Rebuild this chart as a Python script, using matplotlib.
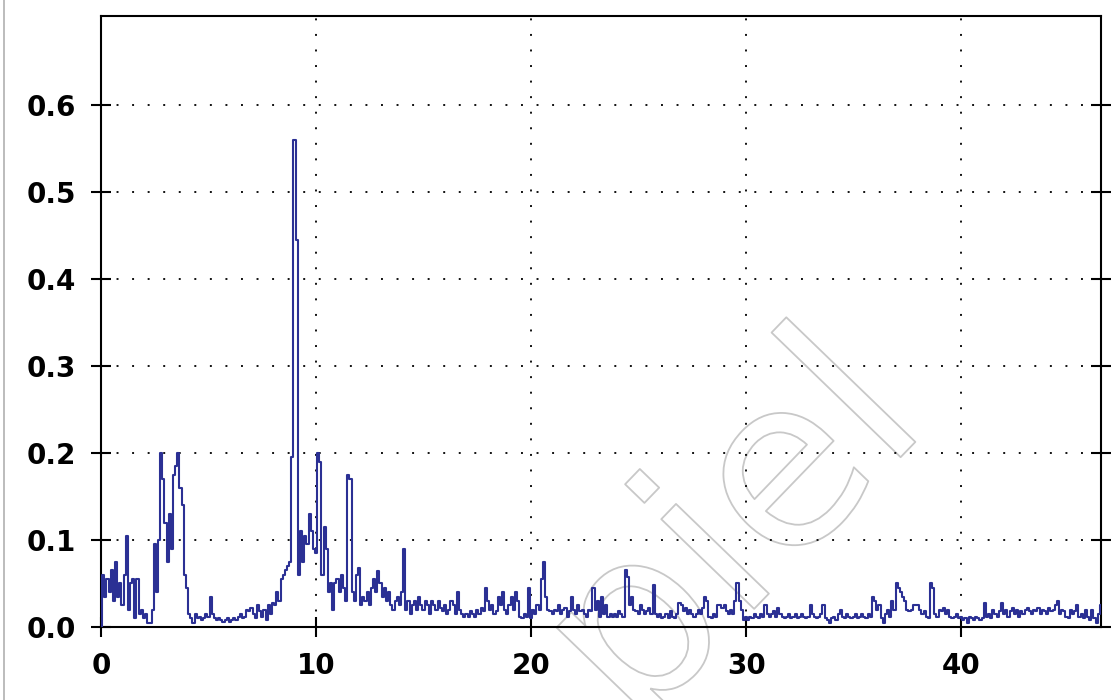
import matplotlib
matplotlib.use("Agg")
import matplotlib.pyplot as plt
import matplotlib.patheffects as pe
from matplotlib.lines import Line2D
import numpy as np

# spectrum values, one row per unit of x, bin width 0.1
amplitude = [
    0.000, 0.060, 0.035, 0.055, 0.040, 0.065, 0.030, 0.075, 0.035, 0.050,
    0.025, 0.060, 0.105, 0.020, 0.050, 0.055, 0.010, 0.055, 0.015, 0.020,
    0.010, 0.015, 0.005, 0.005, 0.020, 0.095, 0.040, 0.100, 0.200, 0.170,
    0.120, 0.075, 0.130, 0.090, 0.175, 0.185, 0.200, 0.160, 0.140, 0.060,
    0.045, 0.015, 0.010, 0.005, 0.015, 0.010, 0.012, 0.008, 0.010, 0.015,
    0.012, 0.035, 0.015, 0.010, 0.008, 0.010, 0.008, 0.006, 0.008, 0.010,
    0.006, 0.008, 0.010, 0.008, 0.012, 0.015, 0.010, 0.012, 0.020, 0.018,
    0.022, 0.015, 0.010, 0.025, 0.018, 0.012, 0.020, 0.008, 0.025, 0.015,
    0.028, 0.025, 0.040, 0.030, 0.055, 0.060, 0.065, 0.070, 0.075, 0.195,
    0.560, 0.445, 0.060, 0.110, 0.075, 0.105, 0.095, 0.130, 0.110, 0.090,
    0.085, 0.200, 0.190, 0.060, 0.115, 0.090, 0.040, 0.050, 0.020, 0.050,
    0.055, 0.040, 0.060, 0.045, 0.030, 0.175, 0.170, 0.040, 0.030, 0.060,
    0.068, 0.025, 0.035, 0.030, 0.040, 0.025, 0.045, 0.055, 0.040, 0.064,
    0.050, 0.035, 0.045, 0.030, 0.040, 0.025, 0.020, 0.030, 0.035, 0.025,
    0.040, 0.090, 0.020, 0.030, 0.015, 0.025, 0.030, 0.020, 0.035, 0.025,
    0.020, 0.030, 0.025, 0.015, 0.030, 0.025, 0.020, 0.030, 0.022, 0.018,
    0.025, 0.015, 0.020, 0.030, 0.025, 0.015, 0.040, 0.020, 0.015, 0.012,
    0.015, 0.012, 0.018, 0.015, 0.012, 0.020, 0.015, 0.022, 0.018, 0.045,
    0.030, 0.020, 0.025, 0.015, 0.018, 0.035, 0.025, 0.040, 0.020, 0.015,
    0.025, 0.035, 0.020, 0.040, 0.030, 0.012, 0.010, 0.015, 0.012, 0.045,
    0.010, 0.020, 0.015, 0.025, 0.020, 0.055, 0.075, 0.035, 0.020, 0.018,
    0.015, 0.020, 0.018, 0.025, 0.015, 0.020, 0.022, 0.012, 0.018, 0.035,
    0.020, 0.015, 0.025, 0.018, 0.020, 0.015, 0.012, 0.020, 0.018, 0.045,
    0.020, 0.030, 0.012, 0.035, 0.015, 0.025, 0.012, 0.015, 0.012, 0.015,
    0.012, 0.018, 0.015, 0.012, 0.065, 0.058, 0.025, 0.035, 0.020, 0.018,
    0.015, 0.025, 0.020, 0.015, 0.018, 0.022, 0.015, 0.048, 0.015, 0.012,
    0.015, 0.010, 0.012, 0.015, 0.010, 0.018, 0.012, 0.010, 0.015, 0.028,
    0.025, 0.018, 0.022, 0.015, 0.020, 0.015, 0.012, 0.015, 0.020, 0.015,
    0.022, 0.035, 0.030, 0.012, 0.010, 0.015, 0.012, 0.025, 0.025, 0.022,
    0.025, 0.018, 0.015, 0.020, 0.015, 0.030, 0.050, 0.030, 0.020, 0.008,
    0.012, 0.008, 0.012, 0.010, 0.015, 0.012, 0.010, 0.015, 0.012, 0.025,
    0.015, 0.012, 0.015, 0.018, 0.012, 0.022, 0.015, 0.012, 0.010, 0.012,
    0.015, 0.010, 0.012, 0.015, 0.010, 0.012, 0.015, 0.012, 0.010, 0.012,
    0.025, 0.015, 0.012, 0.010, 0.012, 0.015, 0.025, 0.010, 0.008, 0.005,
    0.010, 0.012, 0.008, 0.015, 0.020, 0.012, 0.010, 0.015, 0.012, 0.010,
    0.012, 0.015, 0.010, 0.012, 0.015, 0.012, 0.010, 0.015, 0.012, 0.035,
    0.030, 0.020, 0.025, 0.010, 0.005, 0.015, 0.020, 0.012, 0.030, 0.020,
    0.050, 0.045, 0.040, 0.035, 0.030, 0.020, 0.018, 0.020, 0.025, 0.025,
    0.025, 0.020, 0.015, 0.018, 0.012, 0.010, 0.050, 0.045, 0.015, 0.012,
    0.020, 0.018, 0.022, 0.015, 0.020, 0.012, 0.010, 0.012, 0.015, 0.010,
    0.012, 0.008, 0.010, 0.005, 0.012, 0.010, 0.008, 0.012, 0.010, 0.008,
    0.010, 0.028, 0.012, 0.015, 0.010, 0.020, 0.015, 0.012, 0.018, 0.028,
    0.015, 0.020, 0.012, 0.018, 0.022, 0.015, 0.020, 0.012, 0.018, 0.015,
    0.020, 0.022, 0.018, 0.015, 0.020, 0.018, 0.022, 0.015, 0.020, 0.018,
    0.015, 0.022, 0.018, 0.020, 0.025, 0.030, 0.015, 0.020, 0.018, 0.012,
    0.010, 0.020, 0.015, 0.018, 0.025, 0.012, 0.015, 0.010, 0.020, 0.012,
    0.008, 0.020, 0.010, 0.005, 0.015, 0.025,
]
bin_width = 0.1
freq = np.arange(len(amplitude)) * bin_width

x_ticks = [0, 10, 20, 30, 40]
y_ticks = [0.0, 0.1, 0.2, 0.3, 0.4, 0.5, 0.6]
y_labels = ["0.0", "0.1", "0.2", "0.3", "0.4", "0.5", "0.6"]

fig = plt.figure(figsize=(11.16, 7.0), dpi=100)
ax = fig.add_axes([0.0905, 0.1043, 0.896, 0.8727])

ax.step(freq, amplitude, where="mid", color="#2b3094", linewidth=1.5, zorder=3)

ax.set_xlim(0, 46.5)
ax.set_ylim(0, 0.702)
ax.set_xticks(x_ticks)
ax.set_yticks(y_ticks)
ax.set_yticklabels(y_labels)

for lab in ax.get_xticklabels() + ax.get_yticklabels():
    lab.set_fontweight("bold")
    lab.set_fontsize(20)

ax.tick_params(axis="both", direction="inout", length=14, width=1.5,
               pad=11, colors="black")
ax.tick_params(axis="y", right=True)
ax.grid(True, color="#111111", linestyle=(0, (1, 7)), linewidth=1.4, zorder=1)

for s in ax.spines.values():
    s.set_linewidth(1.5)
    s.set_color("black")

# faint outlined watermark
ax.text(0.635, 0.152, "piel", transform=ax.transAxes, rotation=46,
        fontsize=170, color="none", ha="center", va="center", zorder=0,
        path_effects=[pe.Stroke(linewidth=1.3, foreground="#c8c8c8")])

# thin grey frame on the left edge of the image
fig.add_artist(Line2D([0.004, 0.004], [0, 1], color="#b0b0b0", linewidth=1.2))

fig.savefig("out.png", dpi=100)
